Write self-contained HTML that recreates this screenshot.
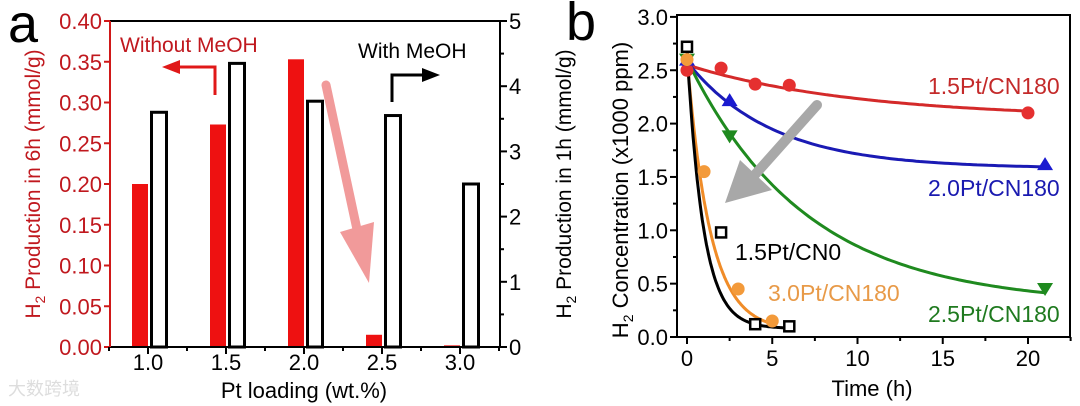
<!DOCTYPE html>
<html><head><meta charset="utf-8"><style>
body{margin:0;background:#fff;}
svg{display:block;font-family:"Liberation Sans","Noto Sans CJK SC",sans-serif;}
</style></head><body>
<svg id="fig" width="1080" height="406" viewBox="0 0 1080 406"></svg>
<script>
// Panel a data
const catsA = ["1.0","1.5","2.0","2.5","3.0"];
const withoutMeOH = [0.200, 0.273, 0.353, 0.015, 0.002];
const withMeOH = [3.6, 4.35, 3.77, 3.55, 2.5];
const leftTicksA = [0,0.05,0.10,0.15,0.20,0.25,0.30,0.35,0.40];
const rightTicksA = [0,1,2,3,4,5];
// Panel b data
const xTicksB = [0,5,10,15,20];
const yTicksB = [0,0.5,1.0,1.5,2.0,2.5,3.0];
const redT = [0,2,4,6,20], redY = [2.5,2.52,2.37,2.36,2.1];
const blueT = [0,2.5,21], blueY = [2.6,2.22,1.62];
const greenT = [0,2.5,21], greenY = [2.6,1.88,0.45];
const orangeT = [0,1,3,5], orangeY = [2.6,1.55,0.45,0.15];
const blackT = [0,2,4,6], blackY = [2.72,0.98,0.12,0.1];
// fit parameters [start, plateau, tau, tEnd]
const redFit = [2.55,2.05,10,20], blueFit=[2.58,1.58,5,21], greenFit=[2.6,0.3,7,21], orangeFit=[2.62,0.06,1.35,5], blackFit=[2.7,0.08,0.95,6];

const NS="http://www.w3.org/2000/svg", svg=document.getElementById('fig');
function mk(tag,attrs,parent,text){const e=document.createElementNS(NS,tag);for(const k in attrs)e.setAttribute(k,attrs[k]);if(text!==undefined)e.textContent=text;(parent||svg).appendChild(e);return e;}

// ---- Panel a ----
const aL=110,aR=500,aT=21,aB=347;
const xA=i=>148+i*78;
const yL=v=>aB-(v/0.4)*(aB-aT);
const yR=v=>aB-(v/5)*(aB-aT);
const ga=mk('g',{});


withoutMeOH.forEach((v,i)=>{const r=mk('rect',{x:xA(i)-16,y:yL(v),width:16,height:aB-yL(v),fill:'#ee1111'},ga);

});
withMeOH.forEach((v,i)=>{const r=mk('rect',{x:xA(i)+3.5,y:yR(v),width:15,height:aB-yR(v),fill:'#fff',stroke:'#000','stroke-width':3},ga);

});
mk('line',{x1:aL,y1:aT,x2:aR,y2:aT,stroke:'#000','stroke-width':2},ga);
mk('line',{x1:aL,y1:aB,x2:aR,y2:aB,stroke:'#000','stroke-width':2},ga);
mk('line',{x1:aL,y1:aT,x2:aL,y2:aB,stroke:'#d01818','stroke-width':2},ga);
mk('line',{x1:aR,y1:aT,x2:aR,y2:aB,stroke:'#000','stroke-width':2},ga);
leftTicksA.forEach(v=>{mk('line',{x1:aL-6,y1:yL(v),x2:aL,y2:yL(v),stroke:'#d01818','stroke-width':2},ga);
const t=mk('text',{x:aL-8,y:yL(v)+8,'text-anchor':'end','font-size':22,fill:'#c0181e'},ga,v.toFixed(2));
});
rightTicksA.forEach(v=>{mk('line',{x1:aR,y1:yR(v),x2:aR+7,y2:yR(v),stroke:'#000','stroke-width':2},ga);
if(v<5)mk('line',{x1:aR,y1:yR(v+0.5),x2:aR+4,y2:yR(v+0.5),stroke:'#000','stroke-width':2},ga);
const t=mk('text',{x:aR+9,y:yR(v)+8,'font-size':22},ga,String(v));
});
catsA.forEach((c,i)=>{mk('line',{x1:xA(i),y1:aB,x2:xA(i),y2:aB+7,stroke:'#000','stroke-width':2},ga);
mk('line',{x1:xA(i)+39,y1:aB,x2:xA(i)+39,y2:aB+4,stroke:'#000','stroke-width':2},ga);
const t=mk('text',{x:xA(i),y:370,'text-anchor':'middle','font-size':22},ga,c);
});
mk('line',{x1:xA(0)-39,y1:aB,x2:xA(0)-39,y2:aB+4,stroke:'#000','stroke-width':2},ga);
</script>
<script>
// static labels panel a
(function(){
const NS="http://www.w3.org/2000/svg", svg=document.getElementById('fig');
function mk(tag,attrs,text){const e=document.createElementNS(NS,tag);for(const k in attrs)e.setAttribute(k,attrs[k]);if(text!==undefined)e.textContent=text;svg.appendChild(e);return e;}
let e;
e=mk('text',{x:8,y:42,'font-size':54},'a');
e=mk('text',{x:304,y:398,'text-anchor':'middle','font-size':22},'Pt loading (wt.%)');
e=mk('text',{transform:'translate(40,184) rotate(-90)','text-anchor':'middle','font-size':21,fill:'#c0181e'});e.innerHTML='H<tspan font-size="14" dy="5">2</tspan><tspan dy="-5"> Production in 6h (mmol/g)</tspan>';

e=mk('text',{transform:'translate(571,184) rotate(-90)','text-anchor':'middle','font-size':21});e.innerHTML='H<tspan font-size="14" dy="5">2</tspan><tspan dy="-5"> Production in 1h (mmol/g)</tspan>';

e=mk('text',{x:120,y:52,'font-size':21,fill:'#c0181e'},'Without MeOH');
e=mk('path',{d:'M215 95 V67 H175',fill:'none',stroke:'#e01818','stroke-width':3});
mk('polygon',{points:'162,67 180,60 180,74',fill:'#e01818'});
e=mk('text',{x:358,y:58,'font-size':21},'With MeOH');
e=mk('path',{d:'M392 102 V75 H425',fill:'none',stroke:'#000','stroke-width':3});
mk('polygon',{points:'440,75 422,68 422,82',fill:'#000'});
e=mk('path',{d:'M326 85 L364 262',stroke:'#f19a9a','stroke-width':9,'stroke-linecap':'round'});
mk('polygon',{points:'369,283 340,232 374,222',fill:'#f19a9a'});
e=mk('text',{x:8,y:395,'font-size':18,fill:'#ddd'},'大数跨境');
})();
</script>
<script>
// Panel b
(function(){
const NS="http://www.w3.org/2000/svg", svg=document.getElementById('fig');
function mk(tag,attrs,text){const e=document.createElementNS(NS,tag);for(const k in attrs)e.setAttribute(k,attrs[k]);if(text!==undefined)e.textContent=text;svg.appendChild(e);return e;}
const bL=677,bR=1070,bT=15,bB=337;
const xB=t=>687+t*17.05;
const yB=v=>bB-v*106.7;
let e;
mk('rect',{x:bL,y:bT,width:bR-bL,height:bB-bT,fill:'none',stroke:'#000','stroke-width':2});
xTicksB.forEach(t=>{mk('line',{x1:xB(t),y1:bB,x2:xB(t),y2:bB+7,stroke:'#000','stroke-width':2});
mk('line',{x1:xB(t+2.5),y1:bB,x2:xB(t+2.5),y2:bB+4,stroke:'#000','stroke-width':2});
e=mk('text',{x:xB(t),y:366,'text-anchor':'middle','font-size':22},String(t));});
yTicksB.forEach(v=>{mk('line',{x1:bL-7,y1:yB(v),x2:bL,y2:yB(v),stroke:'#000','stroke-width':2});
if(v<3)mk('line',{x1:bL-4,y1:yB(v+0.25),x2:bL,y2:yB(v+0.25),stroke:'#000','stroke-width':2});
e=mk('text',{x:bL-9,y:yB(v)+8,'text-anchor':'end','font-size':22},v.toFixed(1));});
function fit(p,col,name){let d='';for(let i=0;i<=100;i++){const t=p[3]*i/100;const y=p[1]+(p[0]-p[1])*Math.exp(-t/p[2]);d+=(i?'L':'M')+xB(t).toFixed(1)+' '+yB(y).toFixed(1);}
const l=mk('path',{d:d,fill:'none',stroke:col,'stroke-width':3});}
fit(redFit,'#d42a2a','fit-1.5pt-cn180');fit(blueFit,'#1a1ab4','fit-2.0pt-cn180');fit(greenFit,'#1f8a1f','fit-2.5pt-cn180');
fit(orangeFit,'#f08c28','fit-3.0pt-cn180');fit(blackFit,'#000','fit-1.5pt-cn0');
function pts(T,Y,col,shape,name){T.forEach((t,i)=>{const x=xB(t),y=yB(Y[i]);let m;
if(shape==='c')m=mk('circle',{cx:x,cy:y,r:6.5,fill:col});
else if(shape==='u')m=mk('polygon',{points:`${x},${y-7} ${x-8},${y+6} ${x+8},${y+6}`,fill:col});
else if(shape==='d')m=mk('polygon',{points:`${x},${y+7} ${x-8},${y-6} ${x+8},${y-6}`,fill:col});
else m=mk('rect',{x:x-5,y:y-5,width:10,height:10,fill:'#fff',stroke:'#000','stroke-width':2.5});
});}
pts(redT,redY,'#e53030','c','point-1.5pt-cn180');pts(blueT,blueY,'#1a1ad0','u','point-2.0pt-cn180');
pts(greenT,greenY,'#1f8a1f','d','point-2.5pt-cn180');pts(orangeT,orangeY,'#f39a3a','c','point-3.0pt-cn180');
pts(blackT,blackY,'#000','s','point-1.5pt-cn0');
e=mk('path',{d:'M817 105 L752 178',stroke:'#a8a8a8','stroke-width':10,'stroke-linecap':'round'});
mk('polygon',{points:'725,203 740,160 772,190',fill:'#a8a8a8'});
const labs=[['1.5Pt/CN180',928,94,'#c42a2a'],['2.0Pt/CN180',928,196,'#1a1ab0'],['2.5Pt/CN180',928,322,'#1f7a1f'],['3.0Pt/CN180',768,301,'#e89a48'],['1.5Pt/CN0',735,260,'#000']];
labs.forEach(l=>{e=mk('text',{x:l[1],y:l[2],'font-size':23,fill:l[3]},l[0]);});
e=mk('text',{x:566,y:40,'font-size':54},'b');
e=mk('text',{x:872,y:396,'text-anchor':'middle','font-size':22},'Time (h)');
e=mk('text',{transform:'translate(628,190) rotate(-90)','text-anchor':'middle','font-size':22});e.innerHTML='H<tspan font-size="14" dy="5">2</tspan><tspan dy="-5"> Concentration (x1000 ppm)</tspan>';

})();
</script>
</body></html>
